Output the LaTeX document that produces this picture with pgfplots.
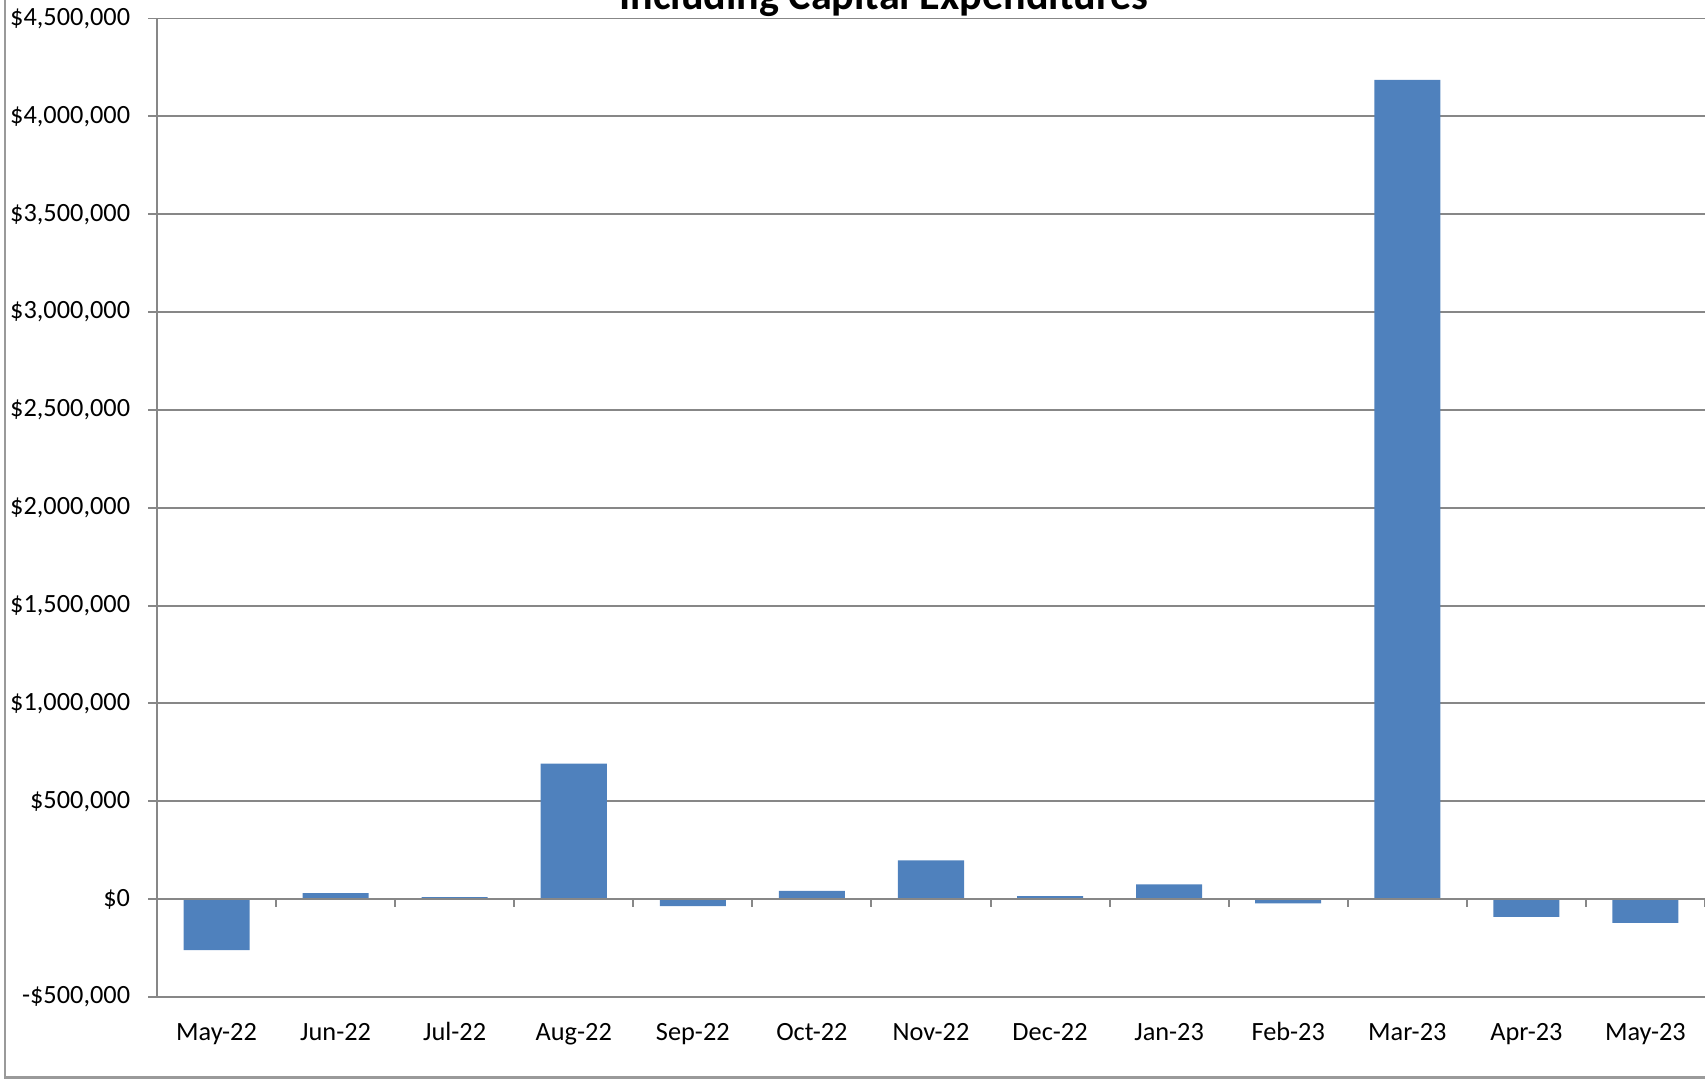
\documentclass[border=0pt]{standalone}
\usepackage{pgfplots}
\pgfplotsset{compat=1.18}
\usepackage{fontspec}
\setmainfont{Carlito}
\definecolor{barblue}{HTML}{4F81BD}
\definecolor{gridgray}{HTML}{878787}
\definecolor{framegray}{HTML}{9A9A9A}
\begin{document}
\begin{tikzpicture}[x=0.38pt,y=0.38pt]
\useasboundingbox (0,0) rectangle (1705,1079);
\clip (0,0) rectangle (1705,1079);
\draw[framegray, line width=0.8pt] (5,1.5) rectangle (1730,1100);
\node[anchor=base, inner sep=0pt, font=\fontsize{16}{18}\selectfont\bfseries] at (884,1069) {Including Capital Expenditures};
\begin{axis}[
  at={(59.66pt,31.16pt)}, anchor=south west,
  scale only axis, width=588.24pt, height=371.83pt,
  xmin=-0.5, xmax=12.5, ymin=-500000, ymax=4500000,
  axis x line*=bottom, axis y line*=left,
  axis line style={gridgray, line width=0.75pt},
  ymajorgrids, grid style={gridgray, line width=0.75pt},
  tick align=outside, major tick length=3.4pt,
  tick style={gridgray, line width=0.75pt},
  x tick style={draw=none},
  xtick={0,...,12},
  xticklabels={May-22,Jun-22,Jul-22,Aug-22,Sep-22,Oct-22,Nov-22,Dec-22,Jan-23,Feb-23,Mar-23,Apr-23,May-23},
  ytick={-500000,0,500000,1000000,1500000,2000000,2500000,3000000,3500000,4000000,4500000},
  yticklabels={{-\$500,000},{\$0},{\$500,000},{\$1,000,000},{\$1,500,000},{\$2,000,000},{\$2,500,000},{\$3,000,000},{\$3,500,000},{\$4,000,000},{\$4,500,000}},
  x tick label style={anchor=base, yshift=-13.3pt},
  y tick label style={anchor=east, xshift=-3.3pt},
  clip=false,
]
\addplot[ybar, bar width=25.1pt, fill=barblue, draw=none] coordinates {
(0,-261000) (1,31000) (2,10000) (3,692000) (4,-36000) (5,42000) (6,198000)
(7,15000) (8,76000) (9,-22000) (10,4186000) (11,-90000) (12,-121000)
};
\draw[gridgray, line width=0.75pt] (axis cs:-0.5,0) -- (axis cs:12.5,0);
\pgfplotsinvokeforeach{0.5,1.5,2.5,3.5,4.5,5.5,6.5,7.5,8.5,9.5,10.5,11.5,12.5}{
  \draw[gridgray, line width=0.75pt] (axis cs:#1,0) -- ++(0pt,-3.1pt);
}
\end{axis}
\end{tikzpicture}
\end{document}
